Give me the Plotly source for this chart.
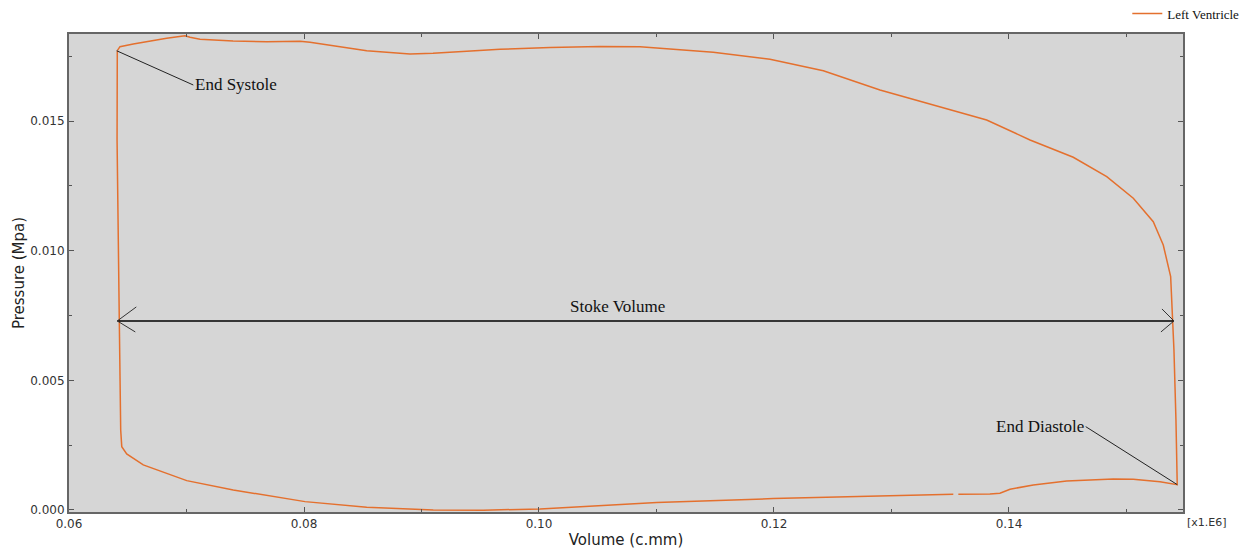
import plotly.graph_objects as go

# Pressure-volume loop of the left ventricle (volume in [x1.E6] c.mm, pressure in MPa)
volume = [
    0.06411, 0.06434, 0.06547, 0.06689, 0.06831, 0.06987, 0.07030, 0.07115,
    0.07396, 0.07683, 0.07966, 0.08051, 0.08247, 0.08534, 0.08902, 0.09098,
    0.09385, 0.09668, 0.10094, 0.10519, 0.10860, 0.11200, 0.11483, 0.11966,
    0.12420, 0.12902, 0.13810, 0.14179, 0.14547, 0.14832, 0.15058, 0.15228,
    0.15313, 0.15376, 0.15393, 0.15404, 0.15421, 0.15432,
    0.15285, 0.15058, 0.14888, 0.14491, 0.14207, 0.14009, 0.13923, 0.13838,
    0.13569, None, 0.13526, 0.12845, 0.11994, 0.11002, 0.10009, 0.09526,
    0.09100, 0.08534, 0.08009, 0.07398, 0.07002, 0.06632, 0.06491, 0.06449,
    0.06440, 0.06428, 0.06409, 0.06411,
]
pressure = [
    0.017713, 0.017867, 0.017971, 0.018087, 0.018191, 0.018292, 0.018230, 0.018153,
    0.018087, 0.018060, 0.018076, 0.018037, 0.017894, 0.017713, 0.017586, 0.017613,
    0.017690, 0.017767, 0.017836, 0.017875, 0.017863, 0.017740, 0.017651, 0.017381,
    0.016942, 0.016197, 0.015040, 0.014269, 0.013602, 0.012854, 0.012021, 0.011118,
    0.010220, 0.008997, 0.007327, 0.006170, 0.003471, 0.000976,
    0.001091, 0.001184, 0.001196, 0.001118, 0.000964, 0.000798, 0.000644, 0.000617,
    0.000605, None, 0.000605, 0.000540, 0.000436, 0.000282, 0.0000386, -0.0000116,
    0.000000, 0.000104, 0.000320, 0.000771, 0.001130, 0.001735, 0.002160, 0.002441,
    0.003085, 0.007327, 0.014269, 0.017713,
]

x_ticks = [0.06, 0.08, 0.10, 0.12, 0.14]
x_ticklabels = ["0.06", "0.08", "0.10", "0.12", "0.14"]
y_ticks = [0.000, 0.005, 0.010, 0.015]
y_ticklabels = ["0.000", "0.005", "0.010", "0.015"]

# Annotation anchors (data coordinates)
end_systole_pt = (0.06406, 0.01771)
end_systole_txt = (0.07058, 0.016420)
end_diastole_pt = (0.15432, 0.000976)
end_diastole_txt = (0.14653, 0.003213)
stroke_y = 0.007289
stroke_x0, stroke_x1 = 0.06411, 0.15404
stroke_label = (0.10664, 0.00783)

LINE = "#e4702e"
SERIF = "Liberation Serif, Times New Roman, serif"
SANS = "DejaVu Sans, Verdana, sans-serif"

fig = go.Figure()
fig.add_trace(go.Scatter(
    x=volume, y=pressure, mode="lines", name="Left Ventricle",
    line=dict(color=LINE, width=1.5), connectgaps=False,
))

shapes = [
    dict(type="line", xref="x", yref="y",
         x0=end_systole_pt[0], y0=end_systole_pt[1],
         x1=end_systole_txt[0], y1=end_systole_txt[1] - 0.00003,
         line=dict(color="#222222", width=1)),
    dict(type="line", xref="x", yref="y",
         x0=end_diastole_txt[0], y0=end_diastole_txt[1],
         x1=end_diastole_pt[0], y1=end_diastole_pt[1],
         line=dict(color="#222222", width=1)),
    dict(type="line", xref="x", yref="y",
         x0=stroke_x0, y0=stroke_y, x1=stroke_x1, y1=stroke_y,
         line=dict(color="black", width=1.5)),
    # open chevron arrow heads (pixel offsets from tip)
    dict(type="path", xref="x", yref="y", xsizemode="pixel", ysizemode="pixel",
         xanchor=stroke_x0, yanchor=stroke_y,
         path="M 19 14 L 0 0 L 18 -11",
         line=dict(color="#333333", width=1)),
    dict(type="path", xref="x", yref="y", xsizemode="pixel", ysizemode="pixel",
         xanchor=stroke_x1, yanchor=stroke_y,
         path="M -12 12 L 0 0 L -13 -11",
         line=dict(color="#333333", width=1)),
]

annotations = [
    dict(x=end_systole_txt[0], y=end_systole_txt[1], xref="x", yref="y",
         text="End Systole", showarrow=False, xanchor="left", yanchor="middle",
         font=dict(family=SERIF, size=17, color="#111111")),
    dict(x=end_diastole_txt[0], y=end_diastole_txt[1], xref="x", yref="y",
         text="End Diastole", showarrow=False, xanchor="right", yanchor="middle",
         font=dict(family=SERIF, size=17, color="#111111")),
    dict(x=stroke_label[0], y=stroke_label[1], xref="x", yref="y",
         text="Stoke Volume", showarrow=False, xanchor="center", yanchor="middle",
         font=dict(family=SERIF, size=17, color="#111111")),
    dict(x=1.002, y=-0.005, xref="paper", yref="paper",
         text="[x1.E6]", showarrow=False, xanchor="left", yanchor="top",
         font=dict(family=SANS, size=11, color="#333333")),
]

# The page body adds an 8px offset, so margins are shifted to compensate.
fig.update_layout(
    width=1250, height=550,
    margin=dict(l=61, r=75, t=26, b=46, autoexpand=False),
    paper_bgcolor="white", plot_bgcolor="#d6d6d6",
    shapes=shapes, annotations=annotations,
    showlegend=True,
    legend=dict(x=0.950, y=1.074, xanchor="left", yanchor="top",
                bgcolor="rgba(0,0,0,0)", font=dict(family=SERIF, size=13, color="#111111"),
                itemwidth=30),
)
fig.update_xaxes(
    range=[0.06, 0.15481], tickvals=x_ticks, ticktext=x_ticklabels,
    ticks="inside", ticklen=5, tickcolor="#555555", tickwidth=1,
    showline=True, linecolor="#666666", linewidth=2, mirror="allticks",
    showgrid=False, zeroline=False, automargin=False,
    minor=dict(dtick=0.01, tick0=0.06, ticks="inside", ticklen=3, tickcolor="#555555", showgrid=False),
    tickfont=dict(family=SANS, size=12, color="#333333"),
    title=dict(text="Volume (c.mm)", font=dict(family=SANS, size=15, color="#222222"), standoff=4),
)
fig.update_yaxes(
    range=[-0.00008, 0.018357], tickvals=y_ticks, ticktext=y_ticklabels,
    ticks="inside", ticklen=5, tickcolor="#555555", tickwidth=1,
    showline=True, linecolor="#666666", linewidth=2, mirror="allticks",
    showgrid=False, zeroline=False, automargin=False,
    minor=dict(dtick=0.0025, tick0=0.0, ticks="inside", ticklen=3, tickcolor="#555555", showgrid=False),
    tickfont=dict(family=SANS, size=12, color="#333333"),
    title=dict(text="Pressure (Mpa)", font=dict(family=SANS, size=15, color="#222222"), standoff=2),
)

fig.write_html("out.html")
